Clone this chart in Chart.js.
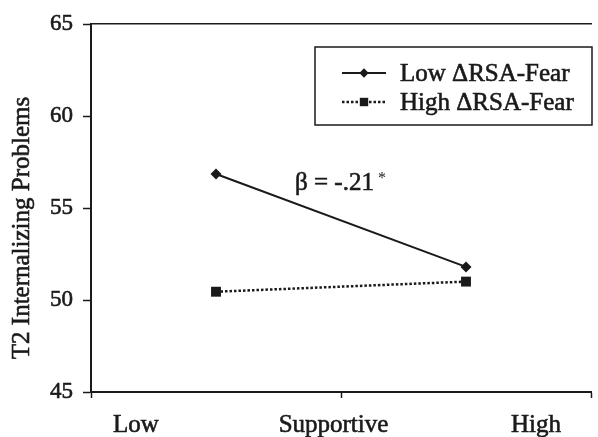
<!DOCTYPE html>
<html>
<head>
<meta charset="utf-8">
<script src="https://cdn.jsdelivr.net/npm/chart.js@4.4.1/dist/chart.umd.min.js"></script>
<style>
  html, body { margin: 0; padding: 0; background: #fff; }
</style>
</head>
<body>
<canvas id="chart" width="598" height="437"></canvas>
<script>
// data
const xPositions = [0.5, 1.5];          // low / high supportive parenting
const lowFear = [56.85, 51.8];          // Low ΔRSA-Fear
const highFear = [50.45, 51.0];         // High ΔRSA-Fear
const seriesNames = ["Low \u0394RSA-Fear", "High \u0394RSA-Fear"];
const yTicks = [45, 50, 55, 60, 65];
const xTickMarks = [0, 1, 2];
const xLabels = ["Low", "Supportive", "High"];
const xLabelPos = [0.18, 0.97, 1.78];
const yTitle = "T2 Internalizing Problems";
const betaText = "\u03B2 = -.21";

const SERIF = "'Liberation Serif', 'Times New Roman', serif";
const INK = "#1a1a1a";
const STROKE = 0.6;   // a bit of weight, the scan is heavier than plain regular

function toPoints(vals) {
    return vals.map((v, i) => ({ x: xPositions[i], y: v }));
}

function heavyText(ctx, txt, x, y) {
    ctx.fillText(txt, x, y);
    ctx.lineWidth = STROKE;
    ctx.strokeStyle = INK;
    ctx.strokeText(txt, x, y);
}

// legend, y title and beta note
const extras = {
    id: "extras",
    afterDraw(chart) {
        const ctx = chart.ctx;
        ctx.save();

        // y axis title
        ctx.fillStyle = INK;
        ctx.font = "25px " + SERIF;
        ctx.textAlign = "center";
        ctx.textBaseline = "middle";
        ctx.translate(22, 228);
        ctx.rotate(-Math.PI / 2);
        heavyText(ctx, yTitle, 0, 0);
        ctx.setTransform(1, 0, 0, 1, 0, 0);

        // beta annotation
        ctx.textAlign = "left";
        ctx.font = "25px " + SERIF;
        heavyText(ctx, betaText, 295, 183);
        let w = ctx.measureText(betaText).width;
        ctx.font = "16px " + SERIF;
        ctx.fillText("*", 295 + w + 4, 179);

        // legend box
        ctx.strokeStyle = INK;
        ctx.lineWidth = 1.5;
        ctx.strokeRect(315, 47, 277, 78);
        chart.data.datasets.forEach((ds, i) => {
            const y = 73 + i * 29;
            ctx.beginPath();
            ctx.setLineDash(ds.borderDash || []);
            ctx.lineWidth = ds.borderWidth;
            ctx.strokeStyle = ds.borderColor;
            ctx.moveTo(342, y);
            ctx.lineTo(386, y);
            ctx.stroke();
            ctx.setLineDash([]);
            Chart.helpers.drawPoint(ctx, {
                pointStyle: ds.pointStyle,
                radius: ds.pointRadius * 0.85,
                borderWidth: 0,
                rotation: 0
            }, 364, y);
            ctx.fillStyle = INK;
            ctx.font = "25px " + SERIF;
            ctx.textAlign = "left";
            ctx.textBaseline = "middle";
            heavyText(ctx, ds.label, 400, y + 1);
        });
        ctx.restore();
    }
};

const ctx = document.getElementById("chart").getContext("2d");
const myChart = new Chart(ctx, {
    type: "scatter",
    data: {
        datasets: [
            {
                label: seriesNames[0],
                data: toPoints(lowFear),
                showLine: true,
                borderColor: INK,
                backgroundColor: INK,
                borderWidth: 2,
                pointStyle: "rectRot",
                pointRadius: 5.5,
                pointBorderWidth: 0
            },
            {
                label: seriesNames[1],
                data: toPoints(highFear),
                showLine: true,
                borderColor: INK,
                backgroundColor: INK,
                borderWidth: 2.5,
                borderDash: [2.5, 2],
                pointStyle: "rect",
                pointRadius: 7,
                pointBorderWidth: 0
            }
        ]
    },
    options: {
        responsive: false,
        animation: false,
        layout: { padding: { top: 24, right: 0, left: 0, bottom: 0 } },
        plugins: {
            legend: { display: false },
            tooltip: { enabled: false }
        },
        scales: {
            x: {
                type: "linear",
                position: "bottom",
                min: 0,
                max: 2,
                afterBuildTicks: s => {
                    s.ticks = xTickMarks.concat(xLabelPos).sort((a, b) => a - b).map(v => ({ value: v }));
                },
                afterFit: s => {
                    s.height = 45;
                    s.paddingLeft = 0;
                    s.paddingRight = 0;
                },
                grid: {
                    drawOnChartArea: false,
                    tickLength: 6,
                    tickWidth: 1.5,
                    tickColor: c => xTickMarks.includes(c.tick.value) ? INK : "rgba(0,0,0,0)"
                },
                border: { color: INK, width: 2 },
                ticks: {
                    autoSkip: false,
                    maxRotation: 0,
                    padding: 12,
                    color: INK,
                    textStrokeColor: INK,
                    textStrokeWidth: STROKE,
                    font: { family: SERIF, size: 25 },
                    callback: v => {
                        const i = xLabelPos.indexOf(v);
                        return i >= 0 ? xLabels[i] : "";
                    }
                }
            },
            xTop: {
                type: "linear",
                position: "top",
                min: 0,
                max: 2,
                afterFit: s => { s.height = 0; },
                grid: { drawOnChartArea: false, drawTicks: false },
                border: { color: INK, width: 1.5 },
                ticks: { display: false }
            },
            y: {
                min: 45,
                max: 65,
                afterBuildTicks: s => { s.ticks = yTicks.map(v => ({ value: v })); },
                afterFit: s => { s.width = 91; },
                grid: { drawOnChartArea: false, tickLength: 8, tickWidth: 1.5, tickColor: INK },
                border: { color: INK, width: 2 },
                ticks: {
                    padding: 10,
                    color: INK,
                    textStrokeColor: INK,
                    textStrokeWidth: STROKE,
                    font: { family: SERIF, size: 23 }
                }
            }
        }
    },
    plugins: [extras]
});
</script>
</body>
</html>
